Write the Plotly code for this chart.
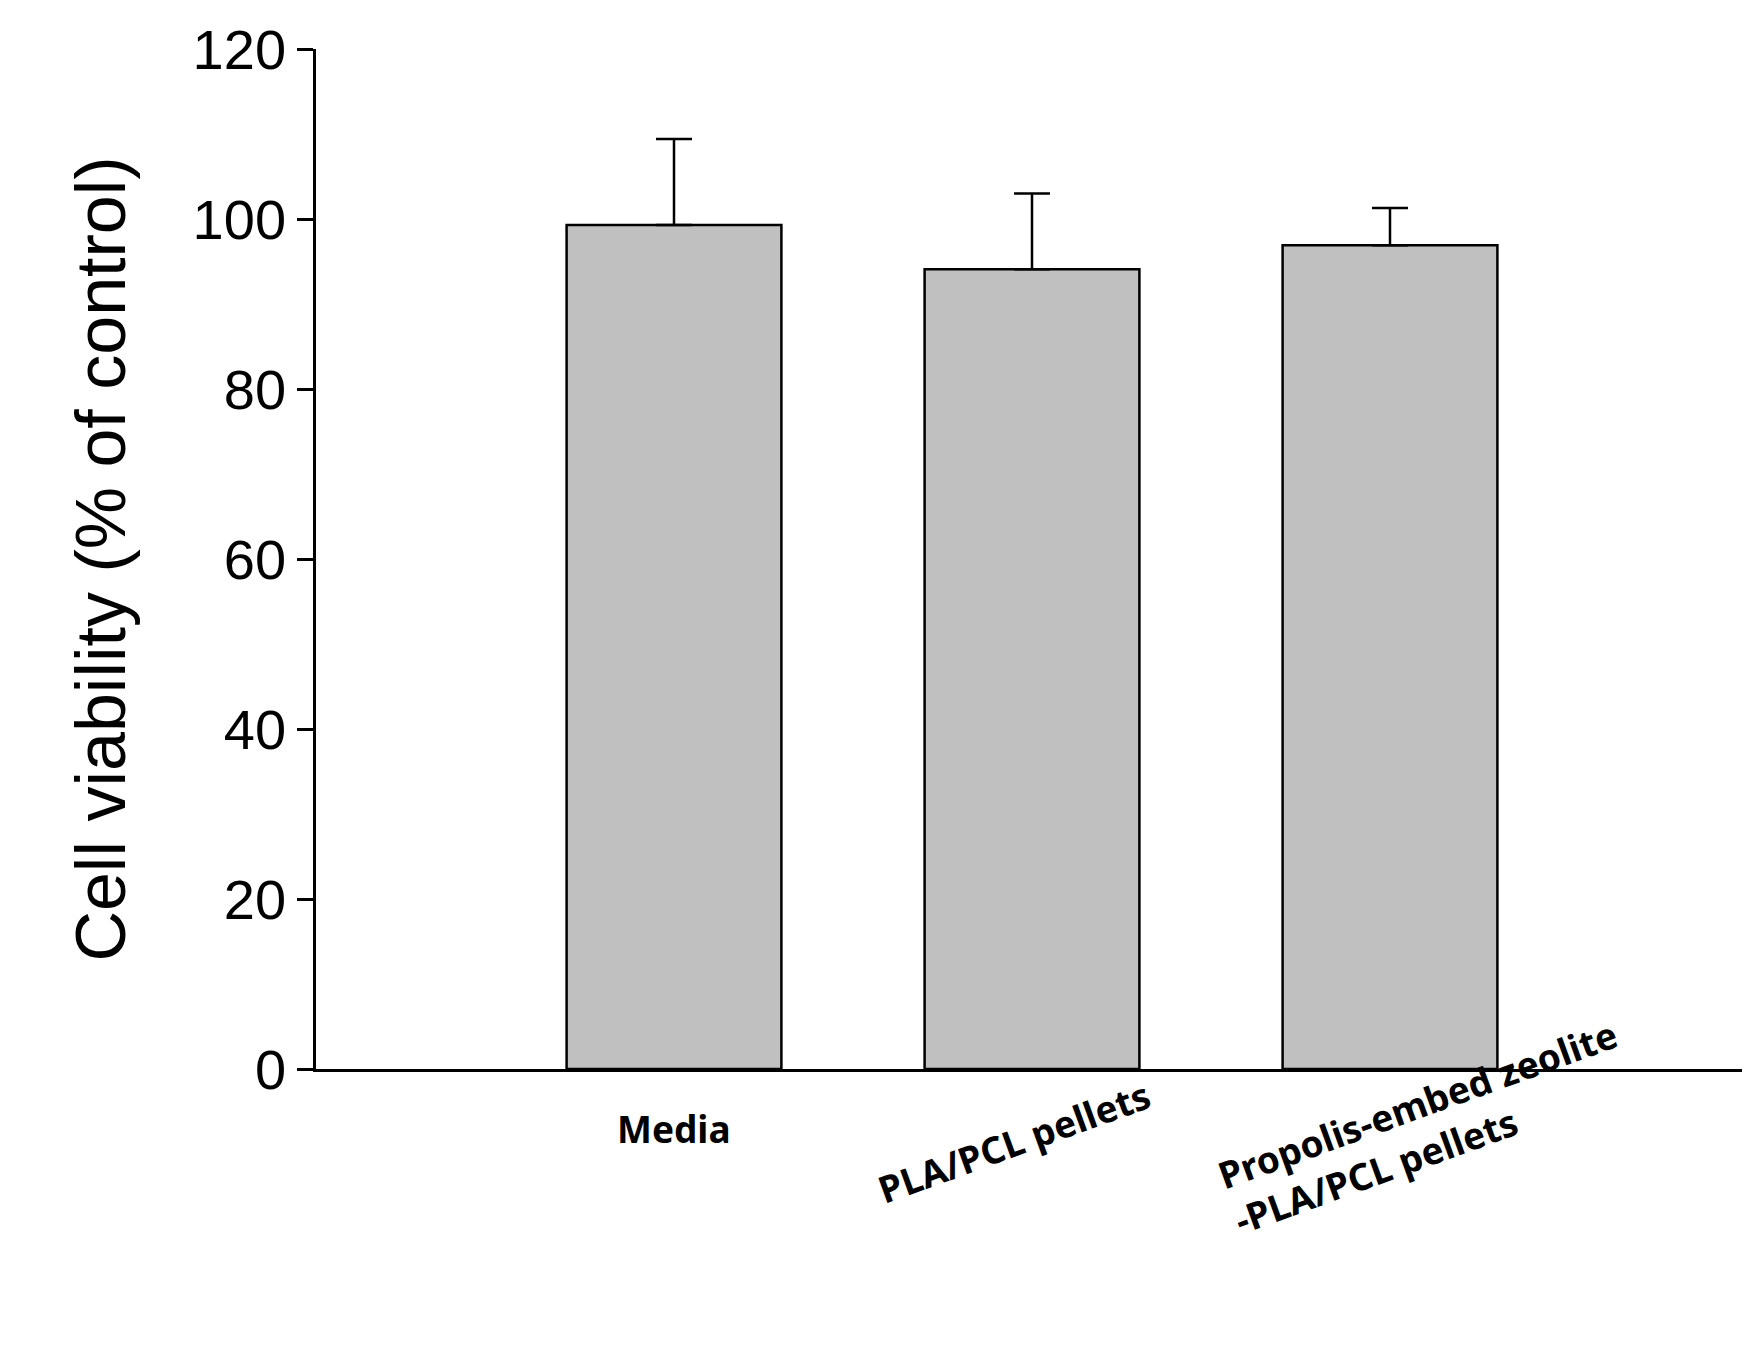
import plotly.graph_objects as go

categories = ["Media", "PLA/PCL pellets", "Propolis-embed zeolite<br>-PLA/PCL pellets"]
means = [99.3, 94.1, 96.9]
errors = [10.1, 8.9, 4.4]
yticks = [0, 20, 40, 60, 80, 100, 120]
xpos = [1, 2, 3]

fig = go.Figure()
fig.add_trace(go.Bar(
    x=xpos, y=means, width=0.6,
    marker=dict(color="#c0c0c0", line=dict(color="black", width=2.5)),
    error_y=dict(type="data", array=errors, arrayminus=[0]*3, symmetric=False,
                 color="black", thickness=2.5, width=18),
))

angles = [0, -20, -20]
xoff = [0, -0.05, 0.1]
yoff = [-0.085, -0.145, -0.175]
for i, (c, a) in enumerate(zip(categories, angles)):
    fig.add_annotation(x=xpos[i] + xoff[i], y=yoff[i], xref="x", yref="paper",
                       text=f"<b>{c}</b>", showarrow=False, textangle=a, align="left",
                       font=dict(family="Noto Sans", size=37, color="black"))

fig.update_layout(
    width=1750, height=1361, paper_bgcolor="white", plot_bgcolor="white",
    margin=dict(l=308, r=10, t=34, b=300), showlegend=False,
    xaxis=dict(range=[0, 4], showticklabels=False, ticks="", showline=True,
               linecolor="black", linewidth=2.5, showgrid=False, zeroline=False),
    yaxis=dict(range=[0, 120], tickvals=yticks, ticks="outside", ticklen=16,
               tickwidth=2.5, tickcolor="black", showline=True, linecolor="black",
               linewidth=2.5, showgrid=False, zeroline=False,
               tickfont=dict(family="Liberation Sans", size=56, color="black"),
               title=dict(text="Cell viability (% of control)", standoff=45,
                          font=dict(family="Liberation Sans", size=70, color="black"))),
)
fig.write_html("out.html")
